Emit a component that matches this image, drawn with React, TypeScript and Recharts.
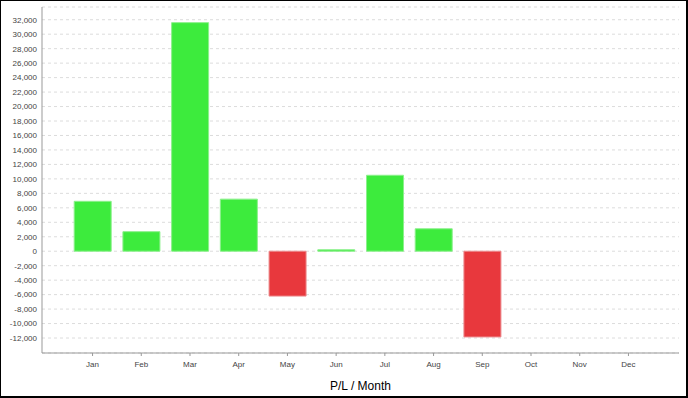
import { BarChart, Bar, XAxis, YAxis, CartesianGrid, Cell } from 'recharts'

// P/L per month
const months = ['Jan', 'Feb', 'Mar', 'Apr', 'May', 'Jun', 'Jul', 'Aug', 'Sep', 'Oct', 'Nov', 'Dec']
const profitLoss: (number | null)[] = [6900, 2700, 31600, 7200, -6200, 200, 10500, 3100, -11850, null, null, null]
const yTicks = [-12000, -10000, -8000, -6000, -4000, -2000, 0, 2000, 4000, 6000, 8000, 10000, 12000, 14000, 16000, 18000, 20000, 22000, 24000, 26000, 28000, 30000, 32000]

const data = months.map((m, i) => ({ month: m, pl: profitLoss[i] }))

const font = '"Liberation Sans", Arial, sans-serif'

export default function App() {
  return (
    <div
      style={{
        position: 'absolute',
        left: 0,
        top: 0,
        width: 688,
        height: 398,
        boxSizing: 'border-box',
        borderStyle: 'solid',
        borderColor: '#000',
        borderWidth: '1px 2px 2px 1px',
        background: '#fff',
        fontFamily: font,
      }}
    >
      <BarChart
        width={685}
        height={395}
        data={data}
        margin={{ top: 6, right: 7, left: 0, bottom: 0 }}
      >
        <CartesianGrid vertical={false} stroke="#dcdcdc" strokeDasharray="3 3" />
        <XAxis
          dataKey="month"
          height={43}
          padding={{ left: 26.2, right: 26.2 }}
          tick={{ fontSize: 8, fill: '#444', fontFamily: font }}
          tickSize={3}
          tickMargin={5}
          axisLine={{ stroke: '#999' }}
          tickLine={{ stroke: '#999' }}
          interval={0}
          label={{ value: 'P/L / Month', position: 'insideBottom', offset: 6, fontSize: 12, fill: '#000', fontFamily: font }}
        />
        <XAxis xAxisId="top" dataKey="month" orientation="top" height={0} tick={false} tickLine={false} axisLine={{ stroke: '#bbb' }} />
        <YAxis
          width={41}
          domain={[-14070, 33760]}
          ticks={yTicks}
          interval={0}
          tickFormatter={(v: number) => v.toLocaleString('en-US')}
          tick={{ fontSize: 8, fill: '#444', fontFamily: font }}
          tickSize={4}
          tickMargin={1}
          tickLine={false}
          axisLine={{ stroke: '#999' }}
        />
        <YAxis yAxisId="right" orientation="right" width={0} tick={false} tickLine={false} axisLine={{ stroke: '#bbb' }} />
        <Bar dataKey="pl" barSize={37} isAnimationActive={false}>
          {data.map((d, i) => (
            <Cell
              key={`cell-${i}`}
              fill={(d.pl ?? 0) < 0 ? '#e8383d' : '#3deb3d'}
              stroke={(d.pl ?? 0) < 0 ? '#ec8a8d' : '#8cf08c'}
            />
          ))}
        </Bar>
      </BarChart>
    </div>
  )
}
